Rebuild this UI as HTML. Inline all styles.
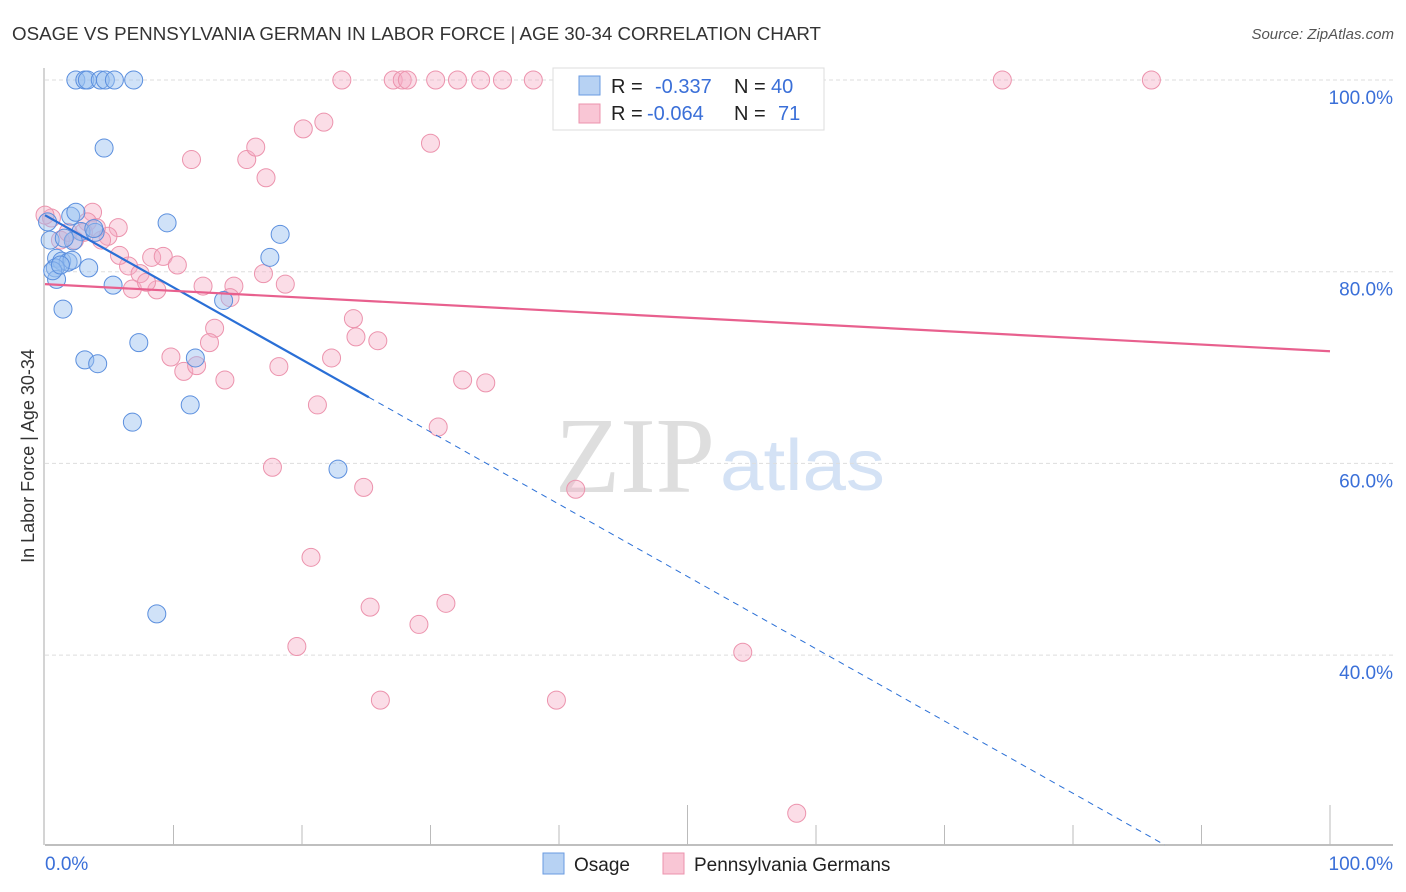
<!DOCTYPE html>
<html><head><meta charset="utf-8"><style>
body{margin:0;background:#fff;font-family:"Liberation Sans",sans-serif}
svg{display:block}
</style></head><body>
<svg id="chart" width="1406" height="892" xmlns="http://www.w3.org/2000/svg">
<text x="12" y="40" font-size="18" fill="#333" textLength="809" lengthAdjust="spacingAndGlyphs">OSAGE VS PENNSYLVANIA GERMAN IN LABOR FORCE | AGE 30-34 CORRELATION CHART</text>
<text x="1394" y="39" font-size="15" fill="#555" font-style="italic" text-anchor="end">Source: ZipAtlas.com</text>
<text x="555" y="492" font-size="108" fill="#dedede" font-family="Liberation Serif,serif" textLength="160" lengthAdjust="spacingAndGlyphs">ZIP</text>
<text x="720" y="490" font-size="72" fill="#d4e2f5" textLength="165" lengthAdjust="spacingAndGlyphs">atlas</text>
<text transform="translate(34,456) rotate(-90)" font-size="18" fill="#333" text-anchor="middle">In Labor Force | Age 30-34</text>
<g id="grid"></g><g id="axes"></g><g id="marks"></g><g id="trends"></g>
<g>
<rect x="553" y="68" width="271" height="62" fill="#fff" stroke="#ddd"/>
<rect x="579" y="76" width="21" height="19" fill="#b7d2f3" stroke="#6a9be0"/>
<rect x="579" y="104" width="21" height="19" fill="#f9c6d5" stroke="#ec93ad"/>
<text x="611" y="93" font-size="20" fill="#222">R = <tspan fill="#3a6fd8" x="655">-0.337</tspan><tspan x="734">N = </tspan><tspan fill="#3a6fd8" x="771">40</tspan></text>
<text x="611" y="120" font-size="20" fill="#222">R = <tspan fill="#3a6fd8" x="647">-0.064</tspan><tspan x="734">N = </tspan><tspan fill="#3a6fd8" x="778">71</tspan></text>
</g>
<g>
<rect x="543" y="853" width="21" height="21" fill="#b7d2f3" stroke="#6a9be0"/>
<text x="574" y="871" font-size="19" fill="#222">Osage</text>
<rect x="663" y="853" width="21" height="21" fill="#f9c6d5" stroke="#ec93ad"/>
<text x="694" y="871" font-size="19" fill="#222">Pennsylvania Germans</text>
</g>
</svg>
<script>
const yTicks=[100,80,60,40];
const xTickLabels=["0.0%","100.0%"];
const osageX=[2.4,3.1,3.3,4.3,4.7,5.4,6.9,4.6,2.0,2.4,2.8,3.9,2.2,0.9,1.3,1.8,0.8,2.1,3.4,0.9,1.4,5.3,9.5,18.3,17.5,13.9,7.3,3.1,4.1,11.7,11.3,6.8,22.8,8.7,0.6,1.2,0.4,1.5,3.8,0.2];
const osageY=[100,100,100,100,100,100,100,92.9,85.8,86.2,84.2,84.1,83.2,81.4,81.1,81.0,80.4,81.2,80.4,79.2,76.1,78.6,85.1,83.9,81.5,77.0,72.6,70.8,70.4,71.0,66.1,64.3,59.4,44.3,80.1,80.7,83.3,83.5,84.5,85.2];
const paX=[23.1,27.1,27.8,28.2,30.4,32.1,33.9,35.6,38.0,46.8,74.5,86.1,11.4,15.7,16.4,17.2,20.1,21.7,30.0,3.7,3.3,5.7,4.9,3.0,0.5,1.2,1.8,4.4,8.3,9.2,6.5,7.4,10.3,6.8,8.7,7.9,12.3,14.7,14.4,17.0,18.7,13.2,12.8,9.8,10.8,11.8,14.0,18.2,22.3,24.0,24.2,25.9,21.2,32.5,34.3,30.6,17.7,24.8,41.3,20.7,25.3,31.2,29.1,19.6,54.3,26.1,39.8,58.5,0.0,2.3,4.0,5.8];
const paY=[100,100,100,100,100,100,100,100,100,100,100,100,91.7,91.7,93.0,89.8,94.9,95.6,93.4,86.2,85.2,84.6,83.7,84.1,85.6,83.3,84.1,83.3,81.5,81.6,80.6,79.8,80.7,78.2,78.1,78.9,78.5,78.5,77.3,79.8,78.7,74.1,72.6,71.1,69.6,70.2,68.7,70.1,71.0,75.1,73.2,72.8,66.1,68.7,68.4,63.8,59.6,57.5,57.3,50.2,45.0,45.4,43.2,40.9,40.3,35.3,35.3,23.5,85.9,83.3,84.6,81.7];
const osageTrend=[85.9,-0.754];
const paTrend=[78.7,-0.07];
const osageSolidEnd=25.2;

const NS="http://www.w3.org/2000/svg";
const X=v=>45+v*12.85;
const Y=v=>80+(100-v)*9.585;
function mk(tag,attrs,parent){const e=document.createElementNS(NS,tag);for(const k in attrs)e.setAttribute(k,attrs[k]);parent.appendChild(e);return e;}
const grid=document.getElementById('grid'),axes=document.getElementById('axes'),marks=document.getElementById('marks'),trends=document.getElementById('trends');
yTicks.forEach(t=>{
  const l=mk('line',{x1:45,x2:1393,y1:Y(t),y2:Y(t),stroke:'#ddd','stroke-dasharray':'4,3'},grid);
  
  
  const tx=mk('text',{x:1393,y:Y(t)+24,'font-size':19,fill:'#3a6fd8','text-anchor':'end'},grid);
  tx.textContent=t.toFixed(1)+'%';
  
  
});
const ax=mk('line',{x1:45,x2:1393,y1:845,y2:845,stroke:'#aaa','stroke-width':1.5},axes);


const ay=mk('line',{x1:44,x2:44,y1:68,y2:845,stroke:'#aaa','stroke-width':1},axes);


for(let i=1;i<=10;i++){
  const tk=mk('line',{x1:X(i*10),x2:X(i*10),y1:(i==5||i==10)?805:825,y2:845,stroke:'#bbb'},axes);
  
  
}
xTickLabels.forEach((s,i)=>{
  const t=mk('text',{x:i?1393:45,y:870,'font-size':19,fill:'#3a6fd8','text-anchor':i?'end':'start'},axes);
  t.textContent=s;
  
  
});
paX.forEach((x,i)=>{
  const c=mk('circle',{cx:X(x),cy:Y(paY[i]),r:9,fill:'rgba(246,170,195,0.4)',stroke:'#ec93ad','stroke-width':1},marks);
  
  
});
osageX.forEach((x,i)=>{
  const c=mk('circle',{cx:X(x),cy:Y(osageY[i]),r:9,fill:'rgba(150,190,240,0.45)',stroke:'#5b8fde','stroke-width':1},marks);
  
  
});
const ot=v=>osageTrend[0]+osageTrend[1]*v;
const ol=mk('line',{x1:X(0),y1:Y(ot(0)),x2:X(osageSolidEnd),y2:Y(ot(osageSolidEnd)),stroke:'#2a6fd6','stroke-width':2.2},trends);


const xEnd=(osageTrend[0]-20.2)/-osageTrend[1];
const od=mk('line',{x1:X(osageSolidEnd),y1:Y(ot(osageSolidEnd)),x2:X(xEnd),y2:Y(ot(xEnd)),stroke:'#2a6fd6','stroke-width':1,'stroke-dasharray':'6,5'},trends);


const pt=v=>paTrend[0]+paTrend[1]*v;
const pl=mk('line',{x1:X(0),y1:Y(pt(0)),x2:X(100),y2:Y(pt(100)),stroke:'#e8608e','stroke-width':2.2},trends);


</script>
</body></html>
